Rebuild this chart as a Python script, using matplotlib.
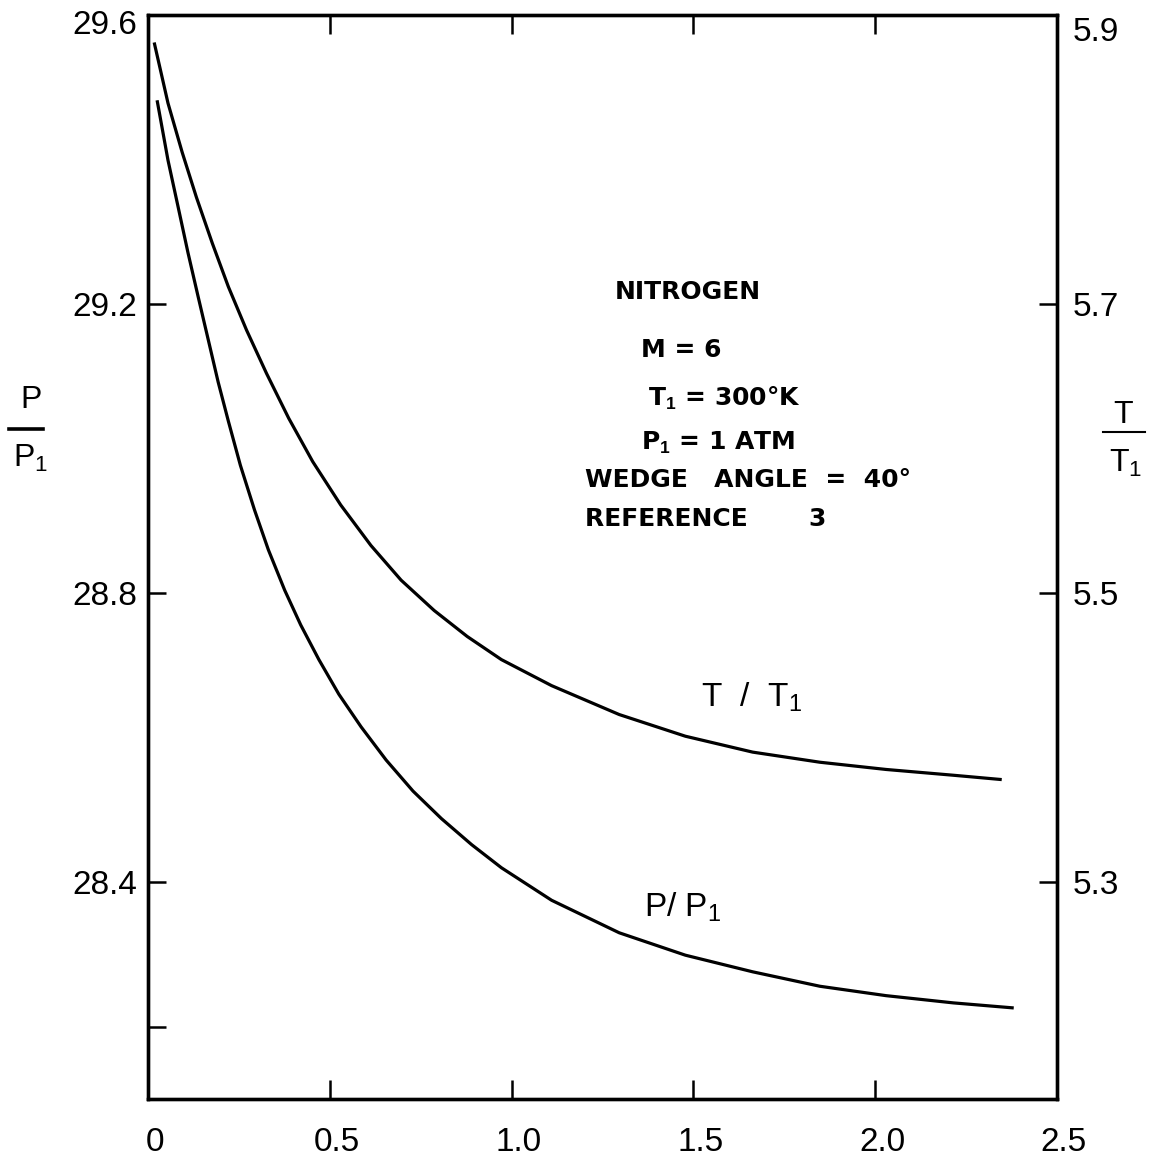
import matplotlib
matplotlib.use("Agg")
import matplotlib.pyplot as plt
import matplotlib.transforms as mtransforms
from matplotlib.lines import Line2D

plt.rcParams['font.family'] = ['Liberation Sans', 'DejaVu Sans']
plt.rcParams['mathtext.fontset'] = 'custom'
plt.rcParams['mathtext.rm'] = 'Liberation Sans'
plt.rcParams['mathtext.it'] = 'Liberation Sans'
plt.rcParams['mathtext.bf'] = 'Liberation Sans:bold'

# ---- data ----
t_x = [0.017, 0.055, 0.094, 0.133, 0.177, 0.221, 0.271, 0.326, 0.387, 0.453,
       0.530, 0.613, 0.696, 0.787, 0.878, 0.972, 1.110, 1.296, 1.478, 1.663,
       1.848, 2.030, 2.215, 2.348]
t_ratio = [5.881, 5.839, 5.805, 5.774, 5.742, 5.712, 5.682, 5.652, 5.621, 5.591,
           5.561, 5.533, 5.509, 5.488, 5.470, 5.454, 5.436, 5.416, 5.401, 5.390,
           5.383, 5.378, 5.374, 5.371]

p_x = [0.025, 0.055, 0.083, 0.110, 0.138, 0.166, 0.193, 0.221, 0.254, 0.293,
       0.331, 0.376, 0.420, 0.470, 0.525, 0.586, 0.655, 0.729, 0.807, 0.890,
       0.972, 1.110, 1.296, 1.478, 1.663, 1.848, 2.030, 2.215, 2.381]
p_ratio = [29.482, 29.399, 29.334, 29.271, 29.210, 29.150, 29.092, 29.038, 28.977, 28.915,
           28.860, 28.804, 28.756, 28.708, 28.660, 28.615, 28.569, 28.526, 28.488, 28.452,
           28.420, 28.375, 28.330, 28.299, 28.276, 28.256, 28.243, 28.233, 28.226]

x_ticks = [0, 0.5, 1.0, 1.5, 2.0, 2.5]
x_labels = ['0', '0.5', '1.0', '1.5', '2.0', '2.5']
left_ticks = [29.6, 29.2, 28.8, 28.4, 28.2]
left_labels = ['29.6', '29.2', '28.8', '28.4', '']
right_ticks = [5.9, 5.7, 5.5, 5.3]
right_labels = ['5.9', '5.7', '5.5', '5.3']

info_texts = ['NITROGEN', 'M = 6', 'T$_\\mathbf{1}$ = 300°K', 'P$_\\mathbf{1}$ = 1 ATM',
              'WEDGE   ANGLE  =  40°', 'REFERENCE       3']

# ---- figure ----
W, H = 1151, 1162
fig = plt.figure(figsize=(W / 100, H / 100), dpi=100)
ax = fig.add_axes([148 / W, 1 - 1099 / H, (1057 - 148) / W, (1099 - 15) / H])
ax2 = ax.twinx()

lw = 2.3
ax.plot(p_x, p_ratio, color='black', lw=lw, solid_capstyle='butt', solid_joinstyle='round')
ax2.plot(t_x, t_ratio, color='black', lw=lw, solid_capstyle='butt', solid_joinstyle='round')

ax.set_xlim(0, 2.5)
ax.set_ylim(28.1, 29.6)
ax2.set_ylim(5.15, 5.9)

for sp in list(ax.spines.values()) + list(ax2.spines.values()):
    sp.set_linewidth(2.4)

ax.set_xticks(x_ticks)
ax.set_xticklabels(x_labels)
ax.set_yticks(left_ticks)
ax.set_yticklabels(left_labels)
ax2.set_yticks(right_ticks)
ax2.set_yticklabels(right_labels)

ax.tick_params(axis='x', which='both', direction='in', length=14, width=1.8,
               top=True, bottom=True, labelsize=24, pad=20)
ax.tick_params(axis='y', direction='in', length=13, width=1.8, labelsize=24, pad=8)
ax2.tick_params(axis='y', direction='in', length=13, width=1.8, labelsize=24, pad=11)

offset = mtransforms.ScaledTranslation(7 / 100, 0, fig.dpi_scale_trans)
for lab in ax.get_xticklabels():
    lab.set_transform(lab.get_transform() + offset)
lab = ax.get_yticklabels()[0]
lab.set_transform(lab.get_transform() + mtransforms.ScaledTranslation(0, -7 / 100, fig.dpi_scale_trans))
lab = ax2.get_yticklabels()[0]
lab.set_transform(lab.get_transform() + mtransforms.ScaledTranslation(0, -14 / 100, fig.dpi_scale_trans))


def fx(px):
    return px / W


def fy(py):
    return 1 - py / H


# left axis label: stacked P / P1
fig.text(fx(31), fy(400), 'P', fontsize=23, ha='center', va='center')
fig.lines.append(Line2D([fx(9), fx(43)], [fy(429), fy(429)], color='black', lw=2.6,
                        transform=fig.transFigure))
fig.text(fx(31), fy(458), r'P$_1$', fontsize=23, ha='center', va='center')

# right axis label: stacked T / T1
fig.text(fx(1123), fy(415), 'T', fontsize=23, ha='center', va='center')
fig.lines.append(Line2D([fx(1103), fx(1145)], [fy(432), fy(432)], color='black', lw=1.5,
                        transform=fig.transFigure))
fig.text(fx(1126), fy(463), r'T$_1$', fontsize=23, ha='center', va='center')

# curve labels
fig.text(fx(752), fy(697), r'T  /  T$_1$', fontsize=24, ha='center', va='center')
fig.text(fx(683), fy(907), r'P/ P$_1$', fontsize=24, ha='center', va='center')

# info block
info_pos = [(688, 292, 'center'), (641, 350, 'left'), (648, 398, 'left'),
            (641, 443, 'left'), (585, 480, 'left'), (585, 519, 'left')]
for txt, (px, py, ha) in zip(info_texts, info_pos):
    fig.text(fx(px), fy(py), txt, fontsize=18, fontweight='bold',
             family=['DejaVu Sans'], ha=ha, va='center')

fig.savefig('out.png', dpi=100)
